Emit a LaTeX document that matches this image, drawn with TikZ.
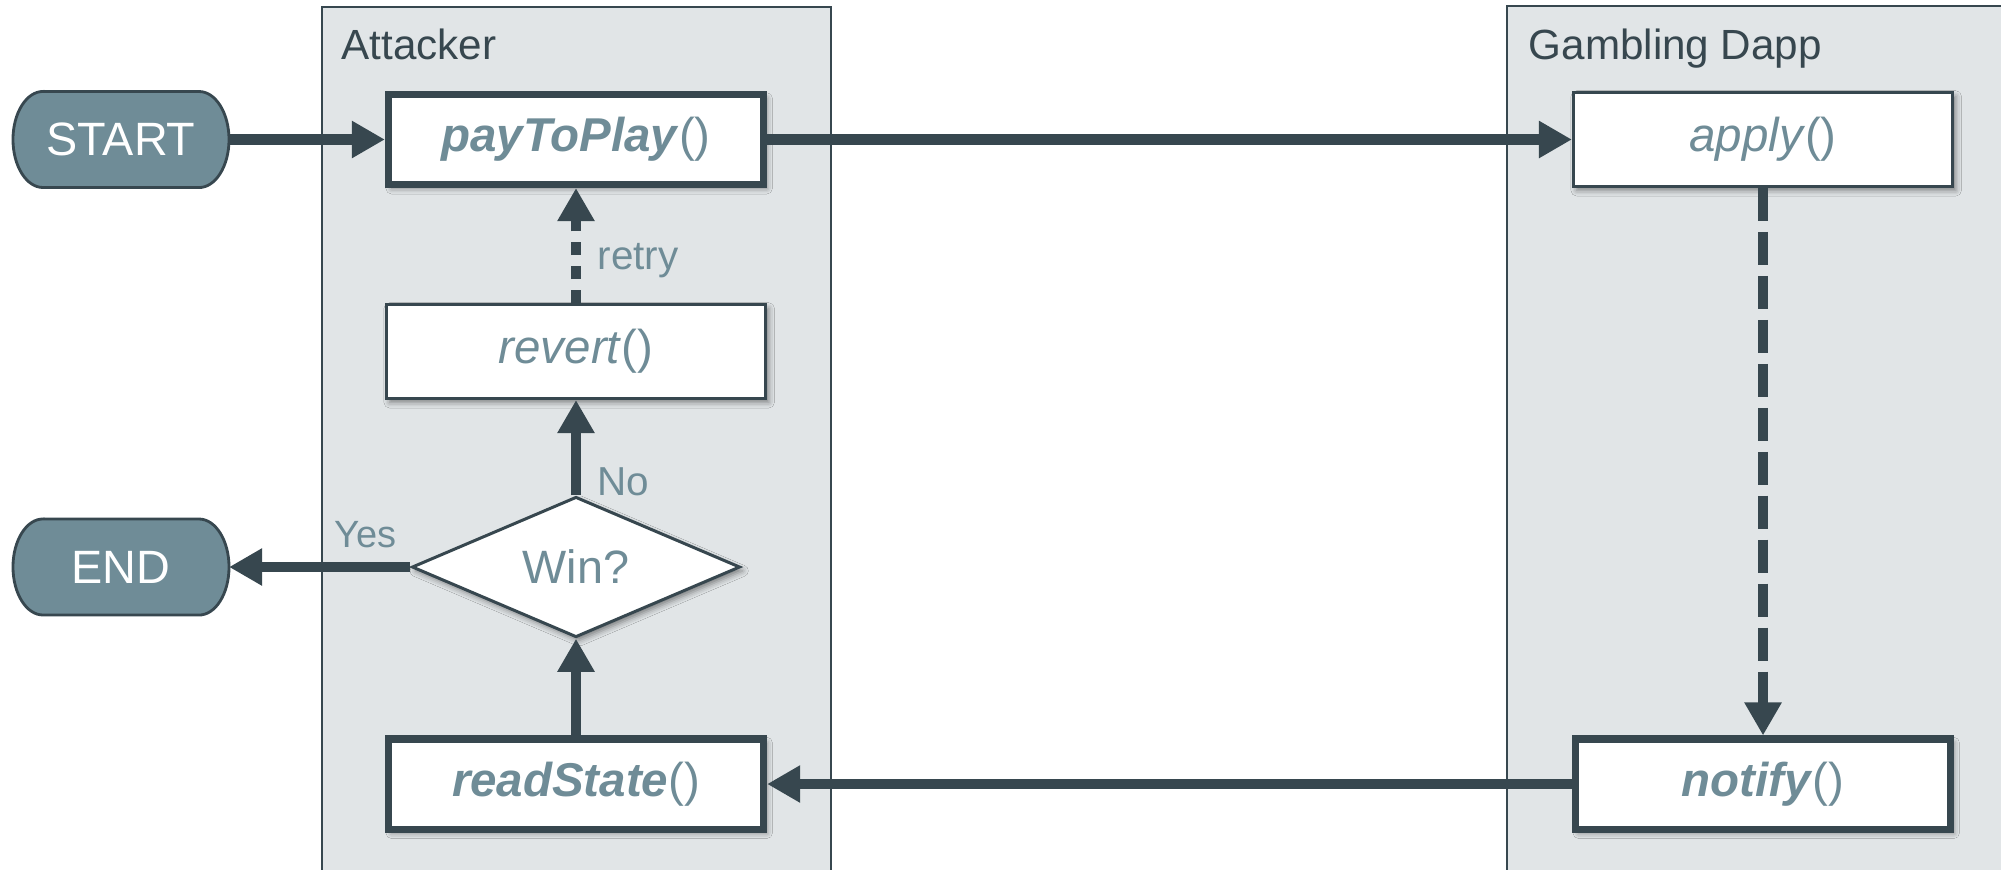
\documentclass[tikz,border=0pt]{standalone}
\usepackage{fontspec}
\setmainfont{Liberation Sans}
\usetikzlibrary{arrows.meta,shapes.geometric,shadows.blur,calc}

\definecolor{laneFill}{HTML}{E1E5E7}
\definecolor{ink}{HTML}{37474F}
\definecolor{label}{HTML}{6F8C97}
\definecolor{termFill}{HTML}{6F8C97}

\tikzset{
  lanetitle/.style={anchor=base west, inner sep=0pt, text=ink, font=\fontsize{12}{14}\selectfont},
  boxshadow/.style={blur shadow={shadow xshift=0.9pt, shadow yshift=-1.1pt, shadow blur radius=1.6pt, shadow opacity=45}},
  fnbox/.style={rectangle, draw=ink, fill=white, text=label, line width=0.85pt,
    minimum width=3.79cm, minimum height=0.94cm, font=\fontsize{13.5}{16}\selectfont, boxshadow},
  fnboxbold/.style={fnbox, line width=2pt, minimum width=3.75cm, minimum height=0.90cm},
  decision/.style={diamond, draw=ink, fill=white, text=label, line width=0.85pt,
    minimum width=3.28cm, minimum height=1.38cm, inner sep=0pt, font=\fontsize{13.3}{16}\selectfont, boxshadow},
  terminal/.style={rectangle, minimum width=2.16cm, minimum height=0.96cm, outer sep=0pt,
    text=white, font=\fontsize{13.3}{16}\selectfont},
  termshape/.style={fill=termFill, draw=ink, line width=0.8pt},
  flow/.style={draw=ink, line width=3.1pt, -{Triangle[length=9.4pt,width=10pt]}},
  flowdash/.style={flow, dash pattern=on 9.4pt off 3.1pt},
  retrydash/.style={flow, line width=2.9pt, dash pattern=on 3.7pt off 3.1pt},
  edgelabel/.style={anchor=base west, inner sep=0pt, text=label, font=\fontsize{11.5}{14}\selectfont},
}

% rounded terminal outline (216 x 96 units) around a centre coordinate
\newcommand\terminalshape[1]{%
  \draw[termshape] ($(#1)+(-78,-48)$) -- ($(#1)+(78,-48)$)
    arc[start angle=90,end angle=-90,x radius=0.3cm,y radius=0.48cm]
    -- ($(#1)+(-78,48)$)
    arc[start angle=270,end angle=90,x radius=0.3cm,y radius=0.48cm] -- cycle;}

\begin{document}
\begin{tikzpicture}[x=0.01cm,y=-0.01cm]
  \useasboundingbox (0,0) rectangle (2001,869);

  % swimlanes
  \fill[laneFill] (322,7) rectangle (831,880);
  \draw[ink, line width=0.6pt] (322,880) -- (322,7) -- (831,7) -- (831,880);
  \fill[laneFill] (1507,6) rectangle (2010,880);
  \draw[ink, line width=0.6pt] (1507,880) -- (1507,6) -- (2010,6);
  \node[lanetitle] (attTitle) at (341,59) {Attacker};
  \node[lanetitle] (dappTitle) at (1528,59) {Gambling Dapp};

  % terminals
  \coordinate (startC) at (121,139.5);
  \coordinate (finishC) at (121,567);
  \terminalshape{startC}
  \terminalshape{finishC}
  \node[terminal] (start) at (startC) {START};
  \node[terminal] (finish) at (finishC) {END};

  % steps
  \node[fnboxbold] (pay) at (576,139.5) {\textbf{\textit{payToPlay}}()};
  \node[fnbox] (rev) at (576,351.5) {\textit{revert}()};
  \node[decision] (win) at (576,567) {Win?};
  \node[fnboxbold] (read) at (576,784) {\textbf{\textit{readState}}()};
  \node[fnbox] (apply) at (1763,139.5) {\textit{apply}()};
  \node[fnboxbold] (notify) at (1763,784) {\textbf{\textit{notify}}()};

  % connectors
  \draw[flow] (start.east) -- (pay.west);
  \draw[flow] (pay.east) -- (apply.west);
  \draw[flowdash] (apply.south) -- (notify.north);
  \draw[flow] (notify.west) -- (read.east);
  \draw[flow] (read.north) -- (win.south);
  \draw[flow] (win.north) -- (rev.south);
  \draw[retrydash] (rev.north) -- (pay.south);
  \draw[flow] (win.west) -- (finish.east);

  % connector labels
  \node[edgelabel] (retryLbl) at (597,269) {retry};
  \node[edgelabel] (noLbl) at (597,495) {No};
  \node[edgelabel, font=\fontsize{10.8}{13}\selectfont] (yesLbl) at (334,547) {Yes};
\end{tikzpicture}
\end{document}
